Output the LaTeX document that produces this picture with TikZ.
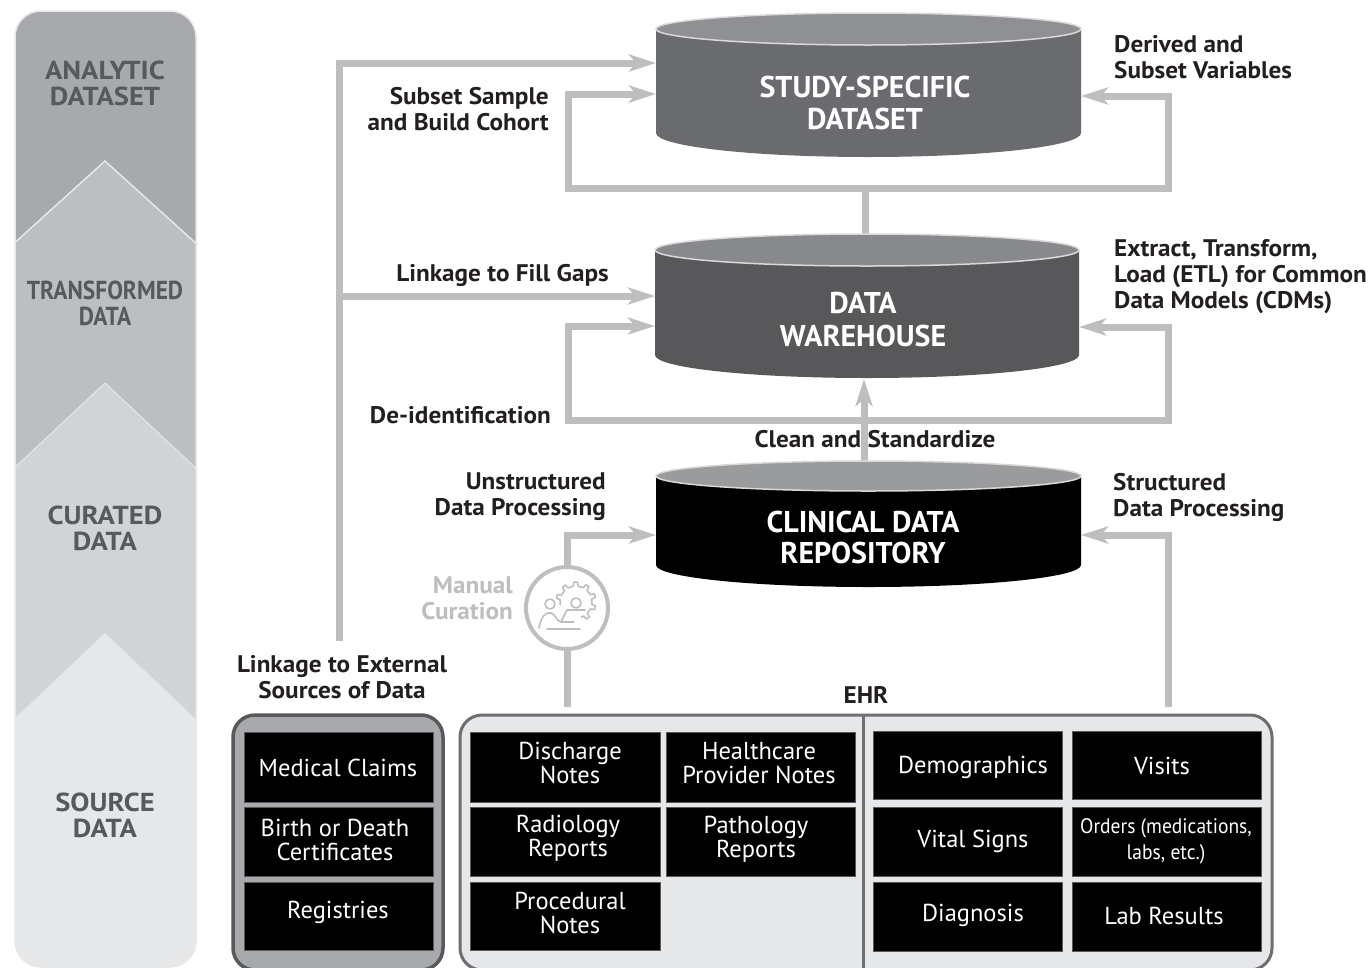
\documentclass[tikz,border=0pt]{standalone}
\usepackage{fontspec}
\usetikzlibrary{arrows.meta,calc}
\newfontfamily\din[FakeStretch=1.05]{PT Sans}
\newfontfamily\dinc[FakeStretch=1.0]{PT Sans}
\newfontfamily\dinw[FakeStretch=1.1]{PT Sans}
\newfontfamily\dinn[FakeStretch=0.9]{PT Sans}
\newfontfamily\dino[FakeStretch=0.93]{PT Sans}
\definecolor{flowc}{HTML}{BCBEC0}
\definecolor{inkc}{HTML}{231F20}
\definecolor{stripink}{HTML}{58595B}
\definecolor{analyticc}{HTML}{A7A9AC}
\definecolor{transc}{HTML}{BCBEC0}
\definecolor{curatedc}{HTML}{D1D3D4}
\definecolor{sourcec}{HTML}{E6E7E8}
\definecolor{studyc}{HTML}{6A6B6E}
\definecolor{warec}{HTML}{58585A}
\definecolor{topa}{HTML}{8F9093}
\definecolor{topb}{HTML}{88898C}
\definecolor{topc}{HTML}{9A9B9D}
\definecolor{panelb}{HTML}{6D6E71}
\tikzset{
  x=1pt,y=-1pt,
  flow/.style={draw=flowc,line width=7pt,line join=miter},
  flowarrow/.style={flow,-{Stealth[length=27pt,width=17pt,inset=7pt]}},
  stagetext/.style={inner sep=0,align=center,text=stripink,font=\dinw\bfseries\fontsize{26}{26}\selectfont},
  cyltext/.style={inner sep=0,align=center,text=white,font=\dinc\bfseries\fontsize{30}{32}\selectfont},
  steplabel/.style={inner sep=0,text=inkc,font=\din\bfseries\fontsize{24}{26}\selectfont},
  boxtext/.style={inner sep=0,align=center,text=white,font=\dinc\fontsize{24.5}{24}\selectfont},
  blackbox/.style={fill=black,draw=stripink,line width=.8pt,inner sep=0},
  panel/.style={rounded corners=22pt,line width=3.5pt,inner sep=0},
  cylframe/.style={inner sep=0,minimum width=425pt},
  icon/.style={draw=flowc,line width=2pt,line cap=round,line join=round},
}
% #1 name, #2 left, #3 right, #4 top-rim y, #5 rim ry, #6 bottom-edge y, #7 bottom ry, #8 body, #9 top
\newcommand{\cyl}[9]{%
  \fill[#8] (#2,#4) -- (#2,#6)
     arc[start angle=180,end angle=0,x radius={(#3-#2)/2},y radius=#7] -- (#3,#4) -- cycle;
  \filldraw[fill=#9,draw=white!85!black,line width=1.5pt] ({(#2+#3)/2},#4) ellipse[x radius={(#3-#2)/2},y radius=#5];
  \node[cylframe,minimum height={(#6+#7-#4+#5)*1pt}] (#1) at ({(#2+#3)/2},{(#6+#7+#4-#5)/2}) {};
}
% #1 name, #2 x1, #3 y1, #4 x2, #5 y2
\newcommand{\bx}[5]{\node[blackbox,minimum width={(#4-#2)*1pt},minimum height={(#5-#3)*1pt}] (#1) at ({(#2+#4)/2},{(#3+#5)/2}) {};}
\begin{document}
\begin{tikzpicture}
\useasboundingbox (0,0) rectangle (1368,967);
\clip (0,0) rectangle (1368,967);
\fill[white] (0,0) rectangle (1368,967);

% left strip of stages
\begin{scope}
  \clip[rounded corners=26pt] (15,11) rectangle (196,967);
  \fill[analyticc] (0,0) rectangle (210,990);
  \filldraw[fill=transc,draw=sourcec,line width=1.5pt] (10,247) -- (105,161) -- (200,247) -- (200,990) -- (10,990) -- cycle;
  \filldraw[fill=curatedc,draw=sourcec,line width=1pt] (10,472) -- (105,383) -- (200,472) -- (200,990) -- (10,990) -- cycle;
  \fill[sourcec] (10,723) -- (105,633) -- (200,723) -- (200,990) -- (10,990) -- cycle;
\end{scope}
\draw[rounded corners=26pt,draw=sourcec,line width=1.5pt] (15,11) rectangle (196,967);
\node[stagetext] (analytic) at (105,83) {ANALYTIC\\DATASET};
\node[stagetext,font=\dinn\bfseries\fontsize{26}{26}\selectfont] (transformed) at (105,303) {TRANSFORMED\\DATA};
\node[stagetext] (curated) at (105,528) {CURATED\\DATA};
\node[stagetext] (source) at (105,815) {SOURCE\\DATA};

% named ends of the connectors
\coordinate (extStart) at (339,641);
\coordinate (studyA) at (656,63);
\coordinate (studyB) at (656,94);
\coordinate (studyC) at (1081,96);
\coordinate (junA) at (865,188);
\coordinate (loopAl) at (568,94);
\coordinate (loopAr) at (1168,96);
\coordinate (wareA) at (655,296);
\coordinate (wareB) at (655,326);
\coordinate (wareC) at (1079,327);
\coordinate (junB) at (865,420);
\coordinate (loopBl) at (568,326);
\coordinate (loopBr) at (1168,327);
\coordinate (branch) at (339,296);
\coordinate (repoL) at (656,535);
\coordinate (repoR) at (1081,535);
\coordinate (ehrL) at (567,707);
\coordinate (ehrR) at (1168,707);
\coordinate (wareBottom) at (864,379);
\coordinate (repoTop) at (864,461);
\coordinate (wareTop) at (865,240);

% connectors
\draw[flowarrow] (extStart) |- (studyA);
\draw[flowarrow] (branch) -- (wareA);
\draw[flowarrow] (junA) -| (loopAl) -- (studyB);
\draw[flowarrow] (junA) -| (loopAr) -- (studyC);
\draw[flow] (junA) -- (wareTop);
\draw[flowarrow] (junB) -| (loopBl) -- (wareB);
\draw[flowarrow] (junB) -| (loopBr) -- (wareC);
\draw[flowarrow] (repoTop) -- (wareBottom);
\draw[flowarrow] (ehrR) |- (repoR);

% cylinders
\cyl{study}{656}{1081}{29}{16}{133}{24}{studyc}{topa}
\cyl{ware}{655}{1079}{250}{16}{355}{23}{warec}{topb}
\cyl{repo}{656}{1081}{476}{15}{565}{22}{black}{topc}
\node[cyltext] (studyT) at (865,103) {STUDY-SPECIFIC\\DATASET};
\node[cyltext,font=\dinc\bfseries\fontsize{30}{33}\selectfont] (wareT) at (863,320) {DATA\\WAREHOUSE};
\node[cyltext,font=\dinc\bfseries\fontsize{30}{31}\selectfont] (repoT) at (863,537) {CLINICAL DATA\\REPOSITORY};

% manual curation
\node[circle,draw=flowc,line width=4pt,minimum size=82pt,inner sep=0] (curation) at (567,608) {};
\draw[flowarrow] (curation.north) |- (repoL);
\draw[flow] (ehrL) -- (curation.south);
\begin{scope}[shift={(576,602)}]
  \draw[icon,line width=1.6pt] (70:16)
    \foreach \a in {62,26,-10,-46,-82,-118,-154} {
      -- ({\a}:16) -- ({\a-4}:20) -- ({\a-14}:20) -- ({\a-18}:16) -- ({\a-36}:16)
    };
  \draw[icon,line width=1.6pt] (0,1) circle[radius=5];
\end{scope}
\draw[icon,line width=1.6pt] (550,604) circle[radius=5];
\draw[icon,line width=1.6pt] (539,628) .. controls (541,618) and (544,612) .. (551,613) .. controls (555,614) and (556,620) .. (561,622) -- (574,622);
\draw[icon,line width=1.6pt] (561,622) -- (567,610) -- (585,610);
\draw[icon,line width=1.6pt] (547,629) -- (580,629);
\node[steplabel,align=right,anchor=east,text=flowc] (manual) at (513,598) {Manual\\Curation};

% step labels
\node[steplabel,align=left,anchor=west] (derived) at (1114,57) {Derived and\\Subset Variables};
\node[steplabel,align=left,anchor=west] (etl) at (1114,277) {Extract, Transform,\\Load (ETL) for Common\\Data Models (CDMs)};
\node[steplabel,align=right,anchor=east] (subset) at (549,109) {Subset Sample\\and Build Cohort};
\node[steplabel,anchor=east] (fill) at (609,275) {Linkage to Fill Gaps};
\node[steplabel,anchor=east] (deid) at (551,415) {De-identification};
\node[steplabel] (clean) at (875,439) {Clean and Standardize};
\node[steplabel,align=right,anchor=east] (unstruct) at (606,497) {Unstructured\\Data Processing};
\node[steplabel,align=left,anchor=west] (struct) at (1113,497) {Structured\\Data Processing};
\node[steplabel,align=center] (external) at (342,677) {Linkage to External\\Sources of Data};
\node[steplabel] (ehrT) at (866,695) {EHR};

% panels
\node[panel,fill=analyticc,draw=stripink,minimum width=210pt,minimum height=255pt] (extPanel) at (338,842.5) {};
\node[panel,fill=sourcec,draw=panelb,line width=3pt,minimum width=812pt,minimum height=255pt] (ehrPanel) at (866,842.5) {};
\draw[panelb,line width=3pt] (863,715) -- (863,970);

\bx{a1}{244}{732}{433}{802}
\bx{a2}{244}{807}{433}{876}
\bx{a3}{244}{882}{433}{950}
\bx{b1}{470}{732}{660}{802}
\bx{b2}{666}{732}{855}{802}
\bx{b3}{470}{807}{660}{876}
\bx{b4}{666}{807}{855}{876}
\bx{b5}{470}{882}{660}{950}
\bx{c1}{873}{731}{1062}{799}
\bx{c2}{1072}{731}{1261}{799}
\bx{c3}{873}{807}{1062}{876}
\bx{c4}{1072}{807}{1261}{876}
\bx{c5}{873}{882}{1062}{951}
\bx{c6}{1072}{882}{1261}{951}

\node[boxtext] (a1t) at (338,768) {Medical Claims};
\node[boxtext] (a2t) at (335,840) {Birth or Death\\Certificates};
\node[boxtext] (a3t) at (338,912) {Registries};
\node[boxtext] (b1t) at (570,763) {Discharge\\Notes};
\node[boxtext] (b2t) at (759,763) {Healthcare\\Provider Notes};
\node[boxtext] (b3t) at (568,838) {Radiology\\Reports};
\node[boxtext] (b4t) at (756,839) {Pathology\\Reports};
\node[boxtext] (b5t) at (570,913) {Procedural\\Notes};
\node[boxtext] (c1t) at (973,767) {Demographics};
\node[boxtext] (c2t) at (1162,766) {Visits};
\node[boxtext] (c3t) at (973,841) {Vital Signs};
\node[boxtext,font=\dino\fontsize{21}{26}\selectfont] (c4t) at (1166,841) {Orders (medications,\\labs, etc.)};
\node[boxtext] (c5t) at (973,915) {Diagnosis};
\node[boxtext] (c6t) at (1164,916) {Lab Results};
\end{tikzpicture}
\end{document}
